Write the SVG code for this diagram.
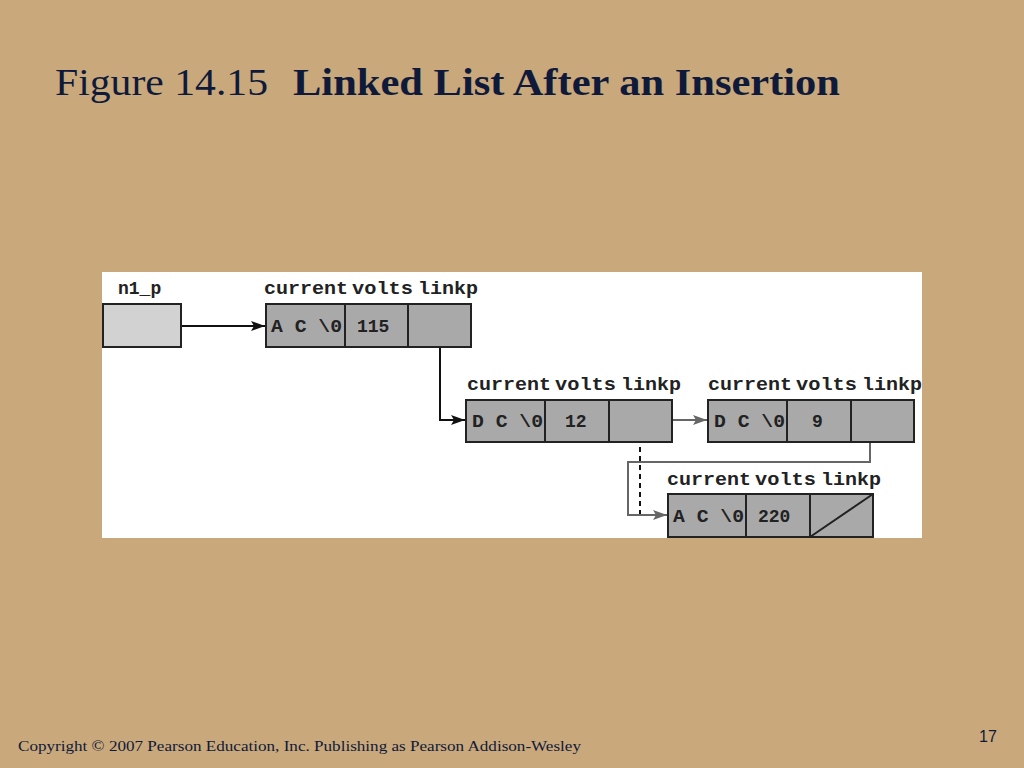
<svg xmlns="http://www.w3.org/2000/svg" width="1024" height="768" viewBox="0 0 1024 768">
<defs>
<style>
.cell{fill:#a9a9a9;stroke:#222;stroke-width:2}
.ptr{fill:#d2d2d2;stroke:#222;stroke-width:2}
.lbl{font-family:"Liberation Mono",monospace;font-size:18px;font-weight:bold;fill:#222}
.val{font-family:"Liberation Mono",monospace;font-size:18px;font-weight:bold;fill:#222}
.blk{fill:none;stroke:#111;stroke-width:2}
.gry{fill:none;stroke:#666;stroke-width:2}
</style>
<marker id="ab" viewBox="0 0 14 10" refX="14" refY="5" markerWidth="14" markerHeight="10" markerUnits="userSpaceOnUse" orient="auto"><path d="M0,0 L14,5 L0,10 L3,5 z" fill="#111"/></marker>
<marker id="ag" viewBox="0 0 14 10" refX="14" refY="5" markerWidth="14" markerHeight="10" markerUnits="userSpaceOnUse" orient="auto"><path d="M0,0 L14,5 L0,10 L3,5 z" fill="#666"/></marker>
</defs>
<rect width="1024" height="768" fill="#c9a87b"/>
<text x="55" y="95" font-family="'Liberation Serif',serif" font-size="38" fill="#0f1a3a" textLength="213" lengthAdjust="spacingAndGlyphs">Figure 14.15</text>
<text x="293" y="95" font-family="'Liberation Serif',serif" font-size="38" font-weight="bold" fill="#0f1a3a" textLength="547" lengthAdjust="spacingAndGlyphs">Linked List After an Insertion</text>
<rect x="102" y="272" width="820" height="266" fill="#ffffff"/>

<g id="connectors">
<line x1="142" y1="326" x2="265" y2="326" class="blk" marker-end="url(#ab)"/>
<polyline points="440,326 440,420 465,420" class="blk" marker-end="url(#ab)"/>
<polyline points="640,420 707,420" class="gry" marker-end="url(#ag)"/>
<line x1="640" y1="420" x2="640" y2="515" stroke="#111" stroke-width="2" stroke-dasharray="5,4"/>
<polyline points="870,420 870,462 628,462 628,515 667,515" class="gry" marker-end="url(#ag)"/>
</g>

<g id="n1_p">
<text x="118" y="294" class="lbl">n1_p</text>
<rect x="103" y="304" width="78" height="43" class="ptr"/>
</g>

<g id="node1">
<text x="264" y="294" class="lbl" textLength="84" lengthAdjust="spacingAndGlyphs">current</text>
<text x="352" y="294" class="lbl" textLength="61" lengthAdjust="spacingAndGlyphs">volts</text>
<text x="418" y="294" class="lbl" textLength="60" lengthAdjust="spacingAndGlyphs">linkp</text>
<rect x="266" y="304" width="79" height="43" class="cell"/>
<rect x="345" y="304" width="63" height="43" class="cell"/>
<rect x="408" y="304" width="63" height="43" class="cell"/>
<text x="271" y="332" class="val" textLength="71" lengthAdjust="spacingAndGlyphs">A C \0</text>
<text x="357" y="332" class="val">115</text>
</g>

<g id="node2">
<text x="467" y="390" class="lbl" textLength="84" lengthAdjust="spacingAndGlyphs">current</text>
<text x="555" y="390" class="lbl" textLength="61" lengthAdjust="spacingAndGlyphs">volts</text>
<text x="621" y="390" class="lbl" textLength="60" lengthAdjust="spacingAndGlyphs">linkp</text>
<rect x="466" y="400" width="79" height="42" class="cell"/>
<rect x="545" y="400" width="64" height="42" class="cell"/>
<rect x="609" y="400" width="63" height="42" class="cell"/>
<text x="472" y="427" class="val" textLength="71" lengthAdjust="spacingAndGlyphs">D C \0</text>
<text x="565" y="427" class="val">12</text>
</g>

<g id="node3">
<text x="708" y="390" class="lbl" textLength="84" lengthAdjust="spacingAndGlyphs">current</text>
<text x="796" y="390" class="lbl" textLength="61" lengthAdjust="spacingAndGlyphs">volts</text>
<text x="862" y="390" class="lbl" textLength="60" lengthAdjust="spacingAndGlyphs">linkp</text>
<rect x="708" y="400" width="79" height="42" class="cell"/>
<rect x="787" y="400" width="64" height="42" class="cell"/>
<rect x="851" y="400" width="63" height="42" class="cell"/>
<text x="714" y="427" class="val" textLength="71" lengthAdjust="spacingAndGlyphs">D C \0</text>
<text x="812" y="427" class="val">9</text>
</g>

<g id="node4">
<text x="667" y="485" class="lbl" textLength="84" lengthAdjust="spacingAndGlyphs">current</text>
<text x="755" y="485" class="lbl" textLength="61" lengthAdjust="spacingAndGlyphs">volts</text>
<text x="821" y="485" class="lbl" textLength="60" lengthAdjust="spacingAndGlyphs">linkp</text>
<rect x="668" y="494" width="78" height="43" class="cell"/>
<rect x="746" y="494" width="64" height="43" class="cell"/>
<rect x="810" y="494" width="63" height="43" class="cell"/>
<line x1="810" y1="537" x2="873" y2="494" stroke="#222" stroke-width="2"/>
<text x="673" y="522" class="val" textLength="71" lengthAdjust="spacingAndGlyphs">A C \0</text>
<text x="758" y="522" class="val">220</text>
</g>

<text x="18" y="751" font-family="'Liberation Serif',serif" font-size="15" fill="#0f1a3a" textLength="563" lengthAdjust="spacingAndGlyphs">Copyright © 2007 Pearson Education, Inc. Publishing as Pearson Addison-Wesley</text>
<text x="979" y="742" font-family="'Liberation Sans',sans-serif" font-size="16" fill="#0f1a3a">17</text>
</svg>
